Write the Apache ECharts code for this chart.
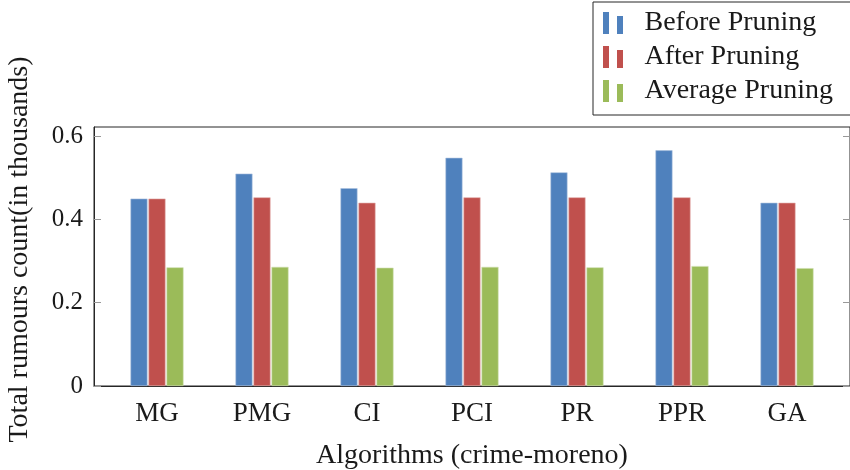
<!DOCTYPE html>
<html>
<head>
<meta charset="utf-8">
<script src="https://cdn.jsdelivr.net/npm/echarts@6/dist/echarts.min.js"></script>
<style>
  html, body { margin: 0; padding: 0; background: #fff; }
  #chart { width: 850px; height: 470px; }
</style>
</head>
<body>
<div id="chart"></div>
<script>
// Algorithms compared on the crime-moreno network
const categories = ['MG', 'PMG', 'CI', 'PCI', 'PR', 'PPR', 'GA'];

// Rumour counts, in thousands
const beforePruning  = [0.450, 0.510, 0.475, 0.548, 0.513, 0.566, 0.440];
const afterPruning   = [0.450, 0.453, 0.440, 0.453, 0.453, 0.453, 0.440];
const averagePruning = [0.285, 0.286, 0.284, 0.286, 0.285, 0.288, 0.283];

const seriesNames = ['Before Pruning', 'After Pruning', 'Average Pruning'];
const yTicks = [0, 0.2, 0.4, 0.6];

const FONT = 'Liberation Serif';
const colors = ['#4F81BD', '#C0504D', '#9BBB59'];
const rims = ['#A9C0DE', '#E0A8A6', '#CDDDAC'];

// pair of small bars used as the legend glyph
const legendIcon = 'path://M0,0h6v22h-6z M14,4h6v18h-6z';

function toPoints(values) {
  return values.map((v, i) => [i, v]);
}

const chart = echarts.init(document.getElementById('chart'), null, { renderer: 'canvas' });

const option = {
  animation: false,
  backgroundColor: '#ffffff',
  textStyle: { fontFamily: FONT },
  grid: {
    left: 94,
    top: 127,
    width: 756,
    height: 259,
    show: true,
    borderColor: '#262626',
    borderWidth: 1,
    containLabel: false,
    outerBoundsMode: 'none'
  },
  legend: {
    orient: 'vertical',
    left: 593,
    top: 2,
    padding: [7, 30, 10, 10],
    itemGap: 6,
    itemWidth: 21,
    itemHeight: 22,
    icon: legendIcon,
    itemStyle: { borderWidth: 0 },
    backgroundColor: '#ffffff',
    borderColor: '#262626',
    borderWidth: 1,
    textStyle: {
      fontFamily: FONT,
      fontSize: 28,
      color: '#1a1a1a',
      padding: [0, 0, 0, 16]
    },
    data: seriesNames
  },
  xAxis: {
    type: 'value',
    min: -0.6,
    max: 6.6,
    name: 'Algorithms (crime-moreno)',
    nameLocation: 'middle',
    nameGap: 56,
    nameTextStyle: { fontFamily: FONT, fontSize: 28, color: '#1a1a1a' },
    axisLine: { show: true, onZero: false, lineStyle: { color: '#262626', width: 1 } },
    axisTick: { show: false },
    splitLine: { show: false },
    axisLabel: {
      customValues: categories.map((_, i) => i),
      formatter: v => categories[Math.round(v)] || '',
      fontFamily: FONT,
      fontSize: 27,
      color: '#1a1a1a',
      margin: 14
    }
  },
  yAxis: [
    {
      type: 'value',
      min: 0,
      max: 0.622,
      interval: 0.2,
      name: 'Total rumours count(in thousands)',
      nameLocation: 'middle',
      nameGap: 60,
      nameTextStyle: { fontFamily: FONT, fontSize: 28, color: '#1a1a1a', padding: [0, 0, 0, 14] },
      axisLine: { show: true, onZero: false, lineStyle: { color: '#262626', width: 1 } },
      axisTick: {
        show: true,
        inside: true,
        length: 7,
        customValues: yTicks,
        lineStyle: { color: '#999999', width: 1 }
      },
      splitLine: { show: false },
      axisLabel: {
        customValues: yTicks,
        formatter: v => (v === 0 ? '0' : v.toFixed(1)),
        fontFamily: FONT,
        fontSize: 25,
        color: '#1a1a1a',
        margin: 11
      }
    },
    {
      type: 'value',
      position: 'right',
      min: 0,
      max: 0.622,
      interval: 0.2,
      axisLine: { show: false, onZero: false },
      axisTick: {
        show: true,
        inside: true,
        length: 7,
        customValues: yTicks,
        lineStyle: { color: '#999999', width: 1 }
      },
      splitLine: { show: false },
      axisLabel: { show: false }
    }
  ],
  series: [beforePruning, afterPruning, averagePruning].map((vals, k) => ({
    name: seriesNames[k],
    type: 'bar',
    data: toPoints(vals),
    barWidth: 17,
    barGap: '6%',
    itemStyle: {
      color: colors[k],
      borderColor: rims[k],
      borderWidth: 0.6
    }
  }))
};

chart.setOption(option);
</script>
</body>
</html>
